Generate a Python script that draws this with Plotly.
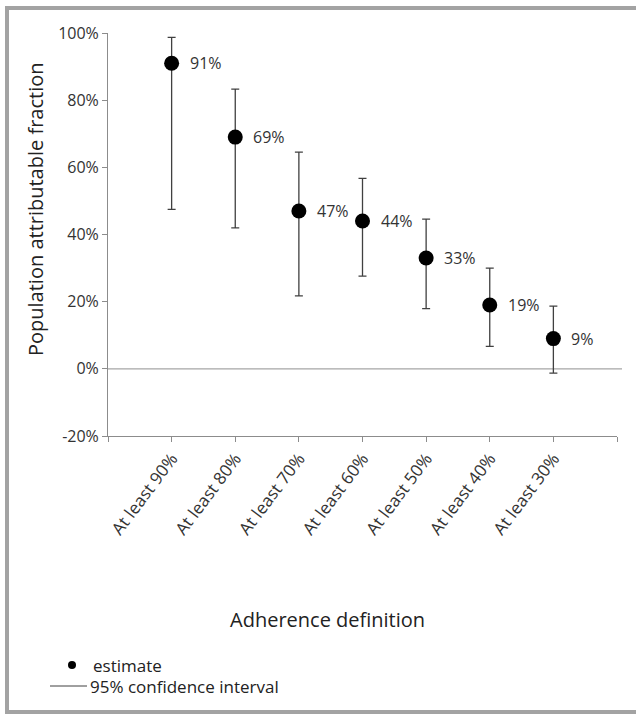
import plotly.graph_objects as go

categories = ["At least 90%", "At least 80%", "At least 70%", "At least 60%",
              "At least 50%", "At least 40%", "At least 30%"]
estimate = [91, 69, 47, 44, 33, 19, 9]
ci_upper = [98.7, 83.3, 64.5, 56.7, 44.6, 30.0, 18.7]
ci_lower = [47.5, 42.0, 21.7, 27.6, 17.9, 6.7, -1.3]
y_ticks = [-20, 0, 20, 40, 60, 80, 100]

W, H = 636, 715
L, R, T, B = 108, 617, 33, 436  # plot area in pixels

def px(x):
    return (x - L) / (R - L)

def py(y):
    return (B - y) / (B - T)

FONT = "Open Sans"
TXT = "#333333"
AX = "#8c8c8c"

xs = list(range(1, len(categories) + 1))

fig = go.Figure()
fig.add_trace(go.Scatter(
    x=xs, y=estimate, mode="markers",
    marker=dict(color="black", size=15),
    error_y=dict(type="data", symmetric=False,
                 array=[u - e for u, e in zip(ci_upper, estimate)],
                 arrayminus=[e - l for e, l in zip(estimate, ci_lower)],
                 color="#404040", thickness=1.3, width=4),
    showlegend=False, hoverinfo="skip",
))

for x, e in zip(xs, estimate):
    fig.add_annotation(x=x, y=e, text=f"{e}%", showarrow=False,
                       xanchor="left", yanchor="middle", xshift=16,
                       font=dict(family=FONT, size=16, color=TXT))

fig.update_layout(
    width=W, height=H,
    margin=dict(l=L, r=W - R, t=T, b=H - B),
    paper_bgcolor="white", plot_bgcolor="white",
    showlegend=False,
    font=dict(family=FONT, color=TXT),
    xaxis=dict(range=[0, len(categories) + 1],
               tickvals=list(range(0, len(categories) + 2)),
               ticktext=[""] + categories + [""],
               tickangle=-53, ticks="outside", ticklen=5, tickcolor=AX,
               showline=True, linecolor=AX, linewidth=1,
               showgrid=False, zeroline=False,
               tickfont=dict(family=FONT, size=17, color=TXT)),
    yaxis=dict(range=[-20, 100], tickvals=y_ticks,
               ticktext=[f"{v}%" for v in y_ticks],
               ticks="outside", ticklen=5, tickcolor=AX,
               showline=True, linecolor=AX, linewidth=1,
               showgrid=False, zeroline=False,
               tickfont=dict(family=FONT, size=16, color=TXT)),
)

# zero reference line (extends slightly past the axis end, as in the original)
fig.add_shape(type="line", xref="paper", yref="y",
              x0=0, x1=px(622), y0=0, y1=0,
              line=dict(color="#a6a6a6", width=1.2), layer="below")

# axis titles
fig.add_annotation(xref="paper", yref="paper", x=px(35), y=py(209),
                   text="Population attributable fraction", textangle=-90,
                   showarrow=False, xanchor="center", yanchor="middle",
                   font=dict(family=FONT, size=20, color="#222222"))
fig.add_annotation(xref="paper", yref="paper", x=px(327), y=py(619),
                   text="Adherence definition", showarrow=False,
                   xanchor="center", yanchor="middle",
                   font=dict(family=FONT, size=20, color="#222222"))

# legend
fig.add_shape(type="circle", xref="paper", yref="paper",
              x0=px(68), x1=px(76), y0=py(661), y1=py(669),
              fillcolor="black", line=dict(color="black", width=0))
fig.add_annotation(xref="paper", yref="paper", x=px(91), y=py(665),
                   text="estimate", showarrow=False, xanchor="left",
                   yanchor="middle", font=dict(family=FONT, size=17, color="#222222"))
fig.add_shape(type="line", xref="paper", yref="paper",
              x0=px(50), x1=px(87), y0=py(686), y1=py(686),
              line=dict(color="#404040", width=1))
fig.add_annotation(xref="paper", yref="paper", x=px(88), y=py(686),
                   text="95% confidence interval", showarrow=False, xanchor="left",
                   yanchor="middle", font=dict(family=FONT, size=17, color="#222222"))

# frame (left, top, bottom)
BC = "#a3a3a3"
fig.add_shape(type="line", xref="paper", yref="paper",
              x0=px(7), x1=px(7), y0=py(6), y1=py(714), line=dict(color=BC, width=4))
fig.add_shape(type="line", xref="paper", yref="paper",
              x0=px(5), x1=px(640), y0=py(8), y1=py(8), line=dict(color=BC, width=4))
fig.add_shape(type="line", xref="paper", yref="paper",
              x0=px(5), x1=px(640), y0=py(712), y1=py(712), line=dict(color=BC, width=4))

fig.write_html("out.html", config={"displayModeBar": False},
               post_script="document.body.style.margin='0';document.body.style.overflow='hidden';")
